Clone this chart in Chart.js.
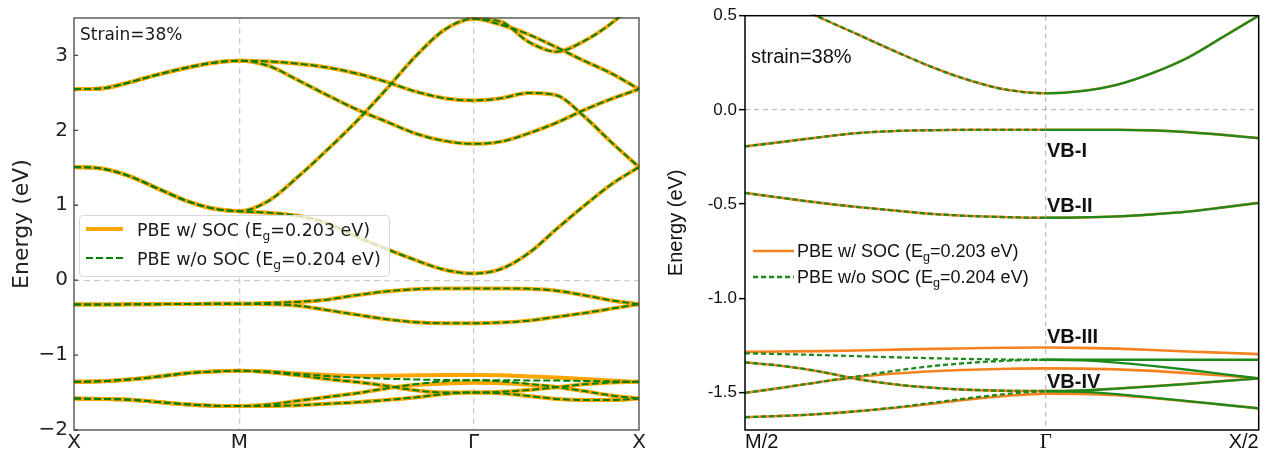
<!DOCTYPE html>
<html>
<head>
<meta charset="utf-8">
<script src="https://cdn.jsdelivr.net/npm/chart.js@4.4.1/dist/chart.umd.min.js"></script>
<style>
  html, body { margin: 0; padding: 0; background: #fff; }
  #wrap { position: relative; width: 1263px; height: 453px; overflow: hidden; }
  canvas { position: absolute; top: 0; }
  #cL { left: 0; }
  #cR { left: 660px; }
  .t { position: absolute; white-space: nowrap; }
  .dv { font-family: 'DejaVu Sans', sans-serif; color: #1a1a1a; }
  .ar { font-family: 'Liberation Sans', Arial, sans-serif; color: #111; }
  .sub { font-size: 0.7em; position: relative; top: 0.32em; }
</style>
</head>
<body>
<div id="wrap">
  <canvas id="cL" width="660" height="453"></canvas>
  <canvas id="cR" width="603" height="453"></canvas>

  <!-- left panel annotations -->
  <div class="t dv" style="left:80px; top:26px; font-size:17px; line-height:17px;">Strain=38%</div>
  <div style="position:absolute; left:79px; top:215px; width:311px; height:62px; box-sizing:border-box;
              border:1px solid #d8d8d8; border-radius:4px; background:rgba(255,255,255,0.8);"></div>
  <svg style="position:absolute; left:85px; top:219px;" width="40" height="50">
    <line x1="1" y1="10" x2="38" y2="10" stroke="#FFA500" stroke-width="4"/>
    <line x1="1" y1="39" x2="38" y2="39" stroke="#008000" stroke-width="2" stroke-dasharray="7 3"/>
  </svg>
  <div class="t dv" style="left:137px; top:220px; font-size:17.5px; line-height:20px;">PBE w/ SOC (E<span class="sub">g</span>=0.203 eV)</div>
  <div class="t dv" style="left:137px; top:249px; font-size:17.5px; line-height:20px;">PBE w/o SOC (E<span class="sub">g</span>=0.204 eV)</div>

  <!-- right panel annotations -->
  <div class="t ar" style="left:751px; top:46px; font-size:20px; line-height:20px;">strain=38%</div>
  <svg style="position:absolute; left:752px; top:240px;" width="44" height="50">
    <line x1="1" y1="11" x2="42" y2="11" stroke="#F5821F" stroke-width="2.5"/>
    <line x1="1" y1="37" x2="42" y2="37" stroke="#1E8A1E" stroke-width="2.5" stroke-dasharray="5 3"/>
  </svg>
  <div class="t ar" style="left:797px; top:241px; font-size:18px; line-height:20px;">PBE w/ SOC (E<span class="sub">g</span>=0.203 eV)</div>
  <div class="t ar" style="left:797px; top:267px; font-size:18px; line-height:20px;">PBE w/o SOC (E<span class="sub">g</span>=0.204 eV)</div>
  <div class="t ar" style="left:1047px; top:140px; font-size:20px; line-height:20px; font-weight:bold;">VB-I</div>
  <div class="t ar" style="left:1047px; top:195px; font-size:20px; line-height:20px; font-weight:bold;">VB-II</div>
  <div class="t ar" style="left:1047px; top:326px; font-size:20px; line-height:20px; font-weight:bold;">VB-III</div>
  <div class="t ar" style="left:1047px; top:371px; font-size:20px; line-height:20px; font-weight:bold;">VB-IV</div>
</div>

<script>
// ---------- left panel: full path X - M - Gamma - X ----------
const kLeft = [0, 0.1667, 0.3333, 0.5, 0.6667, 0.8333, 1.0,
  1.1768, 1.3536, 1.5303, 1.7071, 1.8839, 2.0607, 2.2374, 2.4142,
  2.5809, 2.7475, 2.9142, 3.0809, 3.2475, 3.4142];
const kTicksLeft = [0, 1, 2.4142, 3.4142];
const kLabelsLeft = ['X', 'M', 'Γ', 'X'];
const eTicksLeft = [-2, -1, 0, 1, 2, 3];

// conduction bands (same with and without SOC)
const cb1 = [1.51, 1.49, 1.39, 1.23, 1.07, 0.96, 0.92, 0.90, 0.86, 0.76, 0.58, 0.42, 0.27, 0.14, 0.09, 0.15, 0.36, 0.68, 0.99, 1.28, 1.51];
const cb2 = [1.51, 1.49, 1.39, 1.23, 1.07, 0.96, 0.92, 1.06, 1.38, 1.74, 2.12, 2.54, 2.98, 3.34, 3.49, 3.41, 3.28, 3.11, 2.93, 2.76, 2.55];
const cb3 = [2.55, 2.56, 2.64, 2.74, 2.83, 2.90, 2.93, 2.92, 2.89, 2.84, 2.76, 2.65, 2.52, 2.43, 2.40, 2.43, 2.50, 2.47, 2.19, 1.84, 1.51];
const cb4 = [2.55, 2.56, 2.64, 2.74, 2.83, 2.90, 2.93, 2.86, 2.67, 2.47, 2.28, 2.12, 1.96, 1.86, 1.82, 1.85, 1.96, 2.10, 2.27, 2.42, 2.55];
const cb5 = [null, null, null, null, null, null, null, null, null, null, null, null, null, null, 3.49, 3.45, 3.18, 3.05, 3.19, 3.43, 3.75];
// upper valence bands
const vb1 = [-0.325, -0.325, -0.322, -0.32, -0.318, -0.315, -0.315, -0.305, -0.29, -0.26, -0.20, -0.15, -0.12, -0.11, -0.11, -0.11, -0.115, -0.14, -0.20, -0.27, -0.32];
const vb2 = [-0.325, -0.325, -0.322, -0.32, -0.318, -0.315, -0.315, -0.32, -0.34, -0.40, -0.46, -0.52, -0.56, -0.575, -0.575, -0.565, -0.54, -0.49, -0.44, -0.38, -0.32];
// lower valence bands, without SOC
const ga = [-1.357, -1.35, -1.325, -1.29, -1.245, -1.22, -1.21, -1.22, -1.25, -1.28, -1.30, -1.315, -1.325, -1.333, -1.335, -1.336, -1.338, -1.34, -1.345, -1.35, -1.357];
const gb = [-1.357, -1.35, -1.325, -1.29, -1.245, -1.22, -1.21, -1.23, -1.27, -1.32, -1.36, -1.41, -1.47, -1.50, -1.50, -1.49, -1.465, -1.43, -1.39, -1.365, -1.357];
const gc = [-1.58, -1.585, -1.595, -1.625, -1.655, -1.675, -1.68, -1.66, -1.61, -1.56, -1.51, -1.445, -1.39, -1.35, -1.335, -1.35, -1.385, -1.425, -1.48, -1.54, -1.58];
const gd = [-1.58, -1.585, -1.595, -1.625, -1.655, -1.675, -1.68, -1.68, -1.67, -1.65, -1.63, -1.60, -1.565, -1.52, -1.50, -1.51, -1.545, -1.585, -1.60, -1.60, -1.58];
// lower valence bands that split with SOC
const sa = [-1.357, -1.35, -1.325, -1.29, -1.245, -1.22, -1.21, -1.22, -1.245, -1.265, -1.278, -1.275, -1.27, -1.265, -1.265, -1.27, -1.285, -1.30, -1.32, -1.34, -1.357];
const sc = [-1.58, -1.585, -1.595, -1.625, -1.655, -1.675, -1.68, -1.66, -1.61, -1.56, -1.51, -1.445, -1.40, -1.38, -1.37, -1.375, -1.395, -1.425, -1.48, -1.54, -1.58];

// ---------- right panel: M/2 - Gamma - X/2 ----------
const kRight = [0, 0.0884, 0.1768, 0.2652, 0.3536, 0.4419, 0.5303, 0.6187, 0.7071,
  0.7904, 0.8738, 0.9571, 1.0404, 1.1238, 1.2071];
const kTicksRight = [0, 0.7071, 1.2071];
const kLabelsRight = ['M/2', 'Γ', 'X/2'];
const eTicksRight = [-1.5, -1.0, -0.5, 0.0, 0.5];

const rCB = [0.66, 0.585, 0.49, 0.40, 0.31, 0.225, 0.155, 0.105, 0.088, 0.10, 0.133, 0.195, 0.277, 0.388, 0.50];
const rV1 = [-0.194, -0.17, -0.145, -0.123, -0.112, -0.108, -0.106, -0.106, -0.106, -0.106, -0.106, -0.109, -0.118, -0.133, -0.15];
const rV2 = [-0.441, -0.468, -0.494, -0.516, -0.535, -0.553, -0.564, -0.57, -0.573, -0.571, -0.566, -0.555, -0.54, -0.518, -0.494];
const rGa = [-1.293, -1.297, -1.302, -1.308, -1.314, -1.319, -1.323, -1.326, -1.327, -1.327, -1.327, -1.327, -1.327, -1.327, -1.327];
const rGb = [-1.341, -1.36, -1.39, -1.43, -1.458, -1.476, -1.487, -1.492, -1.493, -1.49, -1.48, -1.468, -1.455, -1.44, -1.426];
const rGc = [-1.503, -1.475, -1.445, -1.415, -1.385, -1.36, -1.343, -1.332, -1.327, -1.33, -1.342, -1.36, -1.38, -1.403, -1.426];
const rGd = [-1.632, -1.625, -1.615, -1.60, -1.58, -1.555, -1.53, -1.508, -1.495, -1.498, -1.51, -1.528, -1.547, -1.566, -1.585];
const rSa = [-1.285, -1.283, -1.281, -1.278, -1.273, -1.269, -1.266, -1.263, -1.262, -1.264, -1.268, -1.275, -1.283, -1.29, -1.297];
const rSc = [-1.503, -1.475, -1.445, -1.418, -1.40, -1.388, -1.38, -1.375, -1.373, -1.374, -1.378, -1.386, -1.398, -1.411, -1.426];
const rSd = [-1.632, -1.625, -1.615, -1.60, -1.582, -1.56, -1.536, -1.518, -1.507, -1.508, -1.515, -1.53, -1.548, -1.566, -1.585];

const socLeft = [cb1, cb2, cb3, cb4, cb5, vb1, vb2, sa, gb, sc, gd];
const noSocLeft = [cb1, cb2, cb3, cb4, cb5, vb1, vb2, ga, gb, gc, gd];
const socRight = [rCB, rV1, rV2, rSa, rGb, rSc, rSd];
const noSocRight = [rCB, rV1, rV2, rGa, rGb, rGc, rGd];

function pts(k, e) {
  return k.map((x, i) => ({ x: x, y: e[i] })).filter(p => p.y !== null);
}

const DV = "'DejaVu Sans', sans-serif";
const AR = "'Liberation Sans', Arial, sans-serif";

function framePlugin(color, width, innerTicks) {
  return {
    id: 'frame',
    afterDatasetsDraw(chart) {
      const { ctx, chartArea: a, scales } = chart;
      ctx.save();
      ctx.strokeStyle = color;
      ctx.lineWidth = width;
      ctx.strokeRect(a.left, a.top, a.right - a.left, a.bottom - a.top);
      if (innerTicks) {
        ctx.beginPath();
        innerTicks.forEach(v => {
          const y = scales.y.getPixelForValue(v);
          ctx.moveTo(a.left, y);
          ctx.lineTo(a.left + 4, y);
        });
        ctx.stroke();
      }
      ctx.restore();
    }
  };
}

// ----- left chart -----
const leftSets = [];
noSocLeft.forEach(b => leftSets.push({
  data: pts(kLeft, b), borderColor: '#008000', borderWidth: 2, borderDash: [7, 3],
  order: 0
}));
socLeft.forEach(b => leftSets.push({
  data: pts(kLeft, b), borderColor: '#FFA500', borderWidth: 4, order: 1
}));

new Chart(document.getElementById('cL'), {
  type: 'line',
  data: { datasets: leftSets },
  options: {
    responsive: false, animation: false, events: [],
    layout: { padding: { left: 0, right: 21, top: 17, bottom: 0 }, autoPadding: false },
    elements: { point: { radius: 0 }, line: { cubicInterpolationMode: 'monotone', fill: false } },
    datasets: { line: { clip: 1 } },
    plugins: { legend: { display: false }, tooltip: { enabled: false } },
    scales: {
      x: {
        type: 'linear', min: 0, max: 3.4142,
        afterBuildTicks: s => { s.ticks = kTicksLeft.map(v => ({ value: v })); },
        afterFit: s => { s.height = 23; },
        ticks: { callback: (v, i) => kLabelsLeft[i], font: { family: DV, size: 20 }, color: '#222', padding: 1, maxRotation: 0 },
        grid: {
          color: c => (c.tick && (c.tick.value === 1 || c.tick.value === 2.4142)) ? '#cdcdcd' : 'rgba(0,0,0,0)',
          lineWidth: 1.3, drawTicks: false
        },
        border: { display: false, dash: [6, 4] }
      },
      y: {
        type: 'linear', min: -2, max: 3.5,
        afterBuildTicks: s => { s.ticks = eTicksLeft.map(v => ({ value: v })); },
        afterFit: s => { s.width = 74; },
        ticks: { callback: v => (v < 0 ? '\u2212' + Math.abs(v) : String(v)), font: { family: DV, size: 20 }, color: '#222', padding: 6 },
        grid: {
          color: c => (c.tick && c.tick.value === 0) ? '#cdcdcd' : 'rgba(0,0,0,0)',
          lineWidth: 1.3, drawTicks: false
        },
        border: { display: false, dash: [6, 4] },
        title: { display: true, text: 'Energy (eV)', font: { family: DV, size: 22 }, color: '#222', padding: { top: 9, bottom: 0 } }
      }
    }
  },
  plugins: [framePlugin('#444', 1.3, eTicksLeft)]
});

// ----- right chart -----
const gammaR = 0.7071;
const rightSets = [];
noSocRight.forEach(b => rightSets.push({
  data: pts(kRight, b), borderColor: '#1E8A1E', borderWidth: 2.3, order: 0,
  segment: { borderDash: c => (c.p0.parsed.x < gammaR - 1e-6 ? [5, 3] : []) }
}));
socRight.forEach(b => rightSets.push({
  data: pts(kRight, b), borderColor: '#F5821F', borderWidth: 2.6, order: 1
}));

new Chart(document.getElementById('cR'), {
  type: 'line',
  data: { datasets: rightSets },
  options: {
    responsive: false, animation: false, events: [],
    layout: { padding: { left: 0, right: 4.3, top: 15.7, bottom: 0 }, autoPadding: false },
    elements: { point: { radius: 0 }, line: { cubicInterpolationMode: 'monotone', fill: false } },
    datasets: { line: { clip: 1 } },
    plugins: { legend: { display: false }, tooltip: { enabled: false } },
    scales: {
      x: {
        type: 'linear', min: 0, max: 1.2071,
        afterBuildTicks: s => { s.ticks = kTicksRight.map(v => ({ value: v })); },
        afterFit: s => { s.height = 23; },
        ticks: {
          callback: (v, i) => kLabelsRight[i], align: 'inner', padding: 0, maxRotation: 0, color: '#111',
          font: c => (c.tick && c.tick.value === gammaR) ? { family: "'Liberation Serif', 'Times New Roman', serif", size: 21 } : { family: AR, size: 20 }
        },
        grid: {
          color: c => (c.tick && c.tick.value === gammaR) ? '#bdbdbd' : 'rgba(0,0,0,0)',
          lineWidth: 1.3, drawTicks: false
        },
        border: { display: false, dash: [5, 4] }
      },
      y: {
        type: 'linear', min: -1.7, max: 0.5,
        afterBuildTicks: s => { s.ticks = eTicksRight.map(v => ({ value: v })); },
        afterFit: s => { s.width = 85; },
        ticks: { callback: v => v.toFixed(1), font: { family: AR, size: 17 }, color: '#111', padding: 2 },
        grid: {
          color: c => (c.tick && c.tick.value === 0) ? '#bdbdbd' : 'rgba(0,0,0,0)',
          lineWidth: 1.3, drawTicks: true, tickLength: 6, tickColor: '#000', tickWidth: 1.5
        },
        border: { display: false, dash: [5, 4] },
        title: { display: true, text: 'Energy (eV)', font: { family: AR, size: 20 }, color: '#111', padding: { top: 4, bottom: 0 } }
      }
    }
  },
  plugins: [framePlugin('#000', 1.5, null)]
});
</script>
</body>
</html>
